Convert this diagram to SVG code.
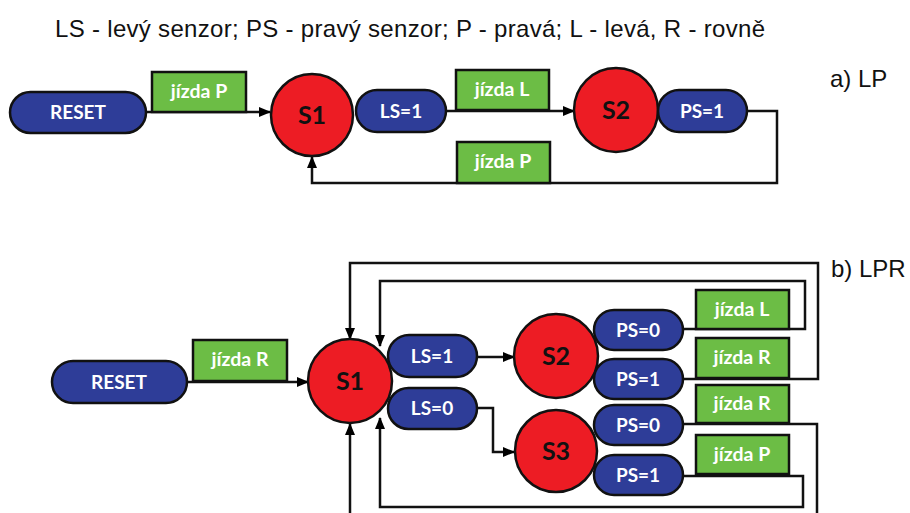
<svg xmlns="http://www.w3.org/2000/svg" width="910" height="513" viewBox="0 0 910 513">
<defs>
<marker id="arr" markerUnits="userSpaceOnUse" markerWidth="12" markerHeight="10" refX="11" refY="5" orient="auto">
<path d="M0,0 L12,5 L0,10 Z" fill="#000"/>
</marker>
<style>
.pill{fill:#2E3D98;stroke:#111;stroke-width:2.5}
.st{fill:#ED1C24;stroke:#111;stroke-width:2.5}
.act{fill:#6CBD45;stroke:#111;stroke-width:2.5}
.wt{font-family:Lato,"Open Sans",sans-serif;font-weight:bold;fill:#fff;font-size:19px;text-anchor:middle}
.gt{font-family:Lato,"Open Sans",sans-serif;font-weight:bold;fill:#fff;font-size:19.5px;text-anchor:middle}
.bt{font-family:Lato,"Open Sans",sans-serif;font-weight:bold;fill:#111;font-size:25px;text-anchor:middle}
.cap{font-family:"Liberation Sans",Arial,sans-serif;fill:#111;font-size:24px}
.ln{fill:none;stroke:#111;stroke-width:2.5}
</style>
</defs>
<rect width="910" height="513" fill="#fff"/>
<text class="cap" x="55" y="37" textLength="710">LS - levý senzor; PS - pravý senzor; P - pravá; L - levá, R - rovně</text>
<text class="cap" x="830" y="87">a) LP</text>
<text class="cap" x="831" y="277">b) LPR</text>

<g id="connectors">
<path class="ln" d="M146,112 H270" marker-end="url(#arr)"/>
<path class="ln" d="M446,111 H574" marker-end="url(#arr)"/>
<path class="ln" d="M747,111 H777 V183 H312 V157" marker-end="url(#arr)"/>
<path class="ln" d="M187,382 H308" marker-end="url(#arr)"/>
<path class="ln" d="M477,357 H514" marker-end="url(#arr)"/>
<path class="ln" d="M477,408 H493 V452 H514" marker-end="url(#arr)"/>
<path class="ln" d="M683,329 H805 V281 H380 V346" marker-end="url(#arr)"/>
<path class="ln" d="M683,379 H818 V263 H350 V339" marker-end="url(#arr)"/>
<path class="ln" d="M683,424 H817 V515"/>
<path class="ln" d="M683,476 H803 V507 H380 V418" marker-end="url(#arr)"/>
<path class="ln" d="M350,515 V424" marker-end="url(#arr)"/>
</g>

<g id="a_reset"><rect class="pill" x="10" y="92" width="136" height="41" rx="20.5"/><text class="wt" x="78" y="119">RESET</text></g>
<g id="a_jizdaP1"><rect class="act" x="152" y="72" width="94" height="40"/><text class="gt" x="199" y="98">jízda P</text></g>
<g id="a_S1"><circle class="st" cx="312" cy="115" r="41"/><text class="bt" x="312" y="124">S1</text></g>
<g id="a_LS1"><rect class="pill" x="356" y="90" width="90" height="42" rx="21"/><text class="wt" x="401" y="118">LS=1</text></g>
<g id="a_jizdaL"><rect class="act" x="456" y="70" width="93" height="40"/><text class="gt" x="502" y="96">jízda L</text></g>
<g id="a_S2"><circle class="st" cx="616" cy="110" r="42"/><text class="bt" x="616" y="119">S2</text></g>
<g id="a_PS1"><rect class="pill" x="658" y="90" width="89" height="42" rx="21"/><text class="wt" x="702" y="118">PS=1</text></g>
<g id="a_jizdaP2"><rect class="act" x="457" y="142" width="93" height="41"/><text class="gt" x="503" y="168">jízda P</text></g>

<g id="b_reset"><rect class="pill" x="52" y="361" width="135" height="42" rx="21"/><text class="wt" x="119" y="389">RESET</text></g>
<g id="b_jizdaR"><rect class="act" x="193" y="340" width="94" height="41"/><text class="gt" x="240" y="366">jízda R</text></g>
<g id="b_S1"><circle class="st" cx="350" cy="381" r="42"/><text class="bt" x="350" y="390">S1</text></g>
<g id="b_LS1"><rect class="pill" x="388" y="335" width="89" height="42" rx="21"/><text class="wt" x="432" y="363">LS=1</text></g>
<g id="b_LS0"><rect class="pill" x="388" y="388" width="89" height="41" rx="20.5"/><text class="wt" x="432" y="415">LS=0</text></g>
<g id="b_S2"><circle class="st" cx="556" cy="356" r="42"/><text class="bt" x="556" y="365">S2</text></g>
<g id="b_S3"><circle class="st" cx="556" cy="451" r="41"/><text class="bt" x="556" y="460">S3</text></g>
<g id="b_S2_PS0"><rect class="pill" x="594" y="310" width="89" height="40" rx="20"/><text class="wt" x="638" y="337">PS=0</text></g>
<g id="b_S2_PS1"><rect class="pill" x="594" y="359" width="89" height="40" rx="20"/><text class="wt" x="638" y="386">PS=1</text></g>
<g id="b_S3_PS0"><rect class="pill" x="594" y="405" width="89" height="40" rx="20"/><text class="wt" x="638" y="432">PS=0</text></g>
<g id="b_S3_PS1"><rect class="pill" x="594" y="455" width="89" height="40" rx="20"/><text class="wt" x="638" y="482">PS=1</text></g>
<g id="b_jizdaL"><rect class="act" x="696" y="290" width="93" height="39"/><text class="gt" x="742" y="316">jízda L</text></g>
<g id="b_jizdaR1"><rect class="act" x="696" y="338" width="93" height="40"/><text class="gt" x="742" y="364">jízda R</text></g>
<g id="b_jizdaR2"><rect class="act" x="696" y="385" width="93" height="38"/><text class="gt" x="742" y="410">jízda R</text></g>
<g id="b_jizdaP"><rect class="act" x="696" y="435" width="93" height="39"/><text class="gt" x="742" y="461">jízda P</text></g>
</svg>
